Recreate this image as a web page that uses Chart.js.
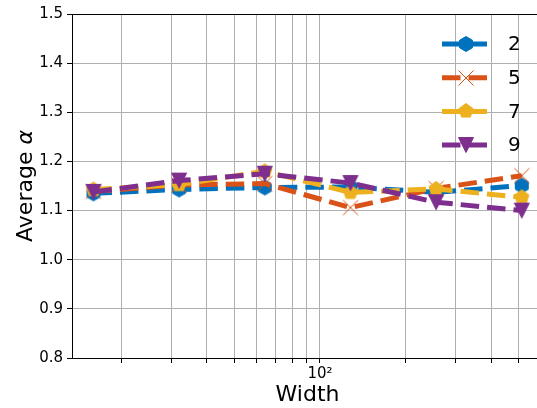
<!DOCTYPE html>
<html>
<head>
<meta charset="utf-8">
<script src="https://cdn.jsdelivr.net/npm/chart.js@4.4.0/dist/chart.umd.min.js"></script>
<style>
html, body { margin: 0; padding: 0; background: #fff; overflow: hidden; }
#wrap { width: 560px; height: 408px; }
</style>
</head>
<body>
<div id="wrap"><canvas id="chart" width="560" height="408"></canvas></div>
<script>
// Datos
const widths = [16, 32, 64, 128, 256, 512];
const seriesLabels = ['2', '5', '7', '9'];
const alpha2 = [1.135, 1.143, 1.147, 1.148, 1.137, 1.151];
const alpha5 = [1.139, 1.152, 1.155, 1.106, 1.145, 1.171];
const alpha7 = [1.143, 1.153, 1.180, 1.137, 1.144, 1.127];
const alpha9 = [1.138, 1.161, 1.175, 1.156, 1.117, 1.100];
const xTicks = [20, 30, 40, 50, 60, 70, 80, 90, 100, 200, 300, 400, 500, 600];
const yTicks = [0.8, 0.9, 1.0, 1.1, 1.2, 1.3, 1.4, 1.5];

const colors = ['#0072BD', '#D95319', '#EDB120', '#7E2F8E'];
const shapes = ['hexagon', 'x', 'pentagon', 'triangleDown'];
const dash = [18.5, 8];
const FONT = '"DejaVu Sans", sans-serif';

// Crear un marcador como imagen (canvas) para usarlo como pointStyle
function makeMarker(shape, color) {
    const s = 20, c = 10, r = 7.5;
    const cv = document.createElement('canvas');
    cv.width = s;
    cv.height = s;
    const g = cv.getContext('2d');
    g.fillStyle = color;
    g.strokeStyle = color;
    g.lineWidth = 1;
    g.beginPath();
    if (shape === 'hexagon' || shape === 'pentagon') {
        const n = shape === 'hexagon' ? 6 : 5;
        for (let i = 0; i < n; i++) {
            const a = -Math.PI / 2 + i * 2 * Math.PI / n;
            const px = c + r * Math.cos(a), py = c + r * Math.sin(a);
            if (i === 0) g.moveTo(px, py); else g.lineTo(px, py);
        }
        g.closePath();
        g.fill();
        g.stroke();
    } else if (shape === 'triangleDown') {
        g.moveTo(c - r, c - r);
        g.lineTo(c + r, c - r);
        g.lineTo(c, c + r);
        g.closePath();
        g.fill();
        g.stroke();
    } else {
        g.moveTo(c - r, c - r);
        g.lineTo(c + r, c + r);
        g.moveTo(c + r, c - r);
        g.lineTo(c - r, c + r);
        g.stroke();
    }
    return cv;
}

const seriesValues = [alpha2, alpha5, alpha7, alpha9];
const markers = shapes.map((s, i) => makeMarker(s, colors[i]));

const datasets = seriesLabels.map((label, i) => ({
    label: label,
    data: widths.map((w, j) => ({ x: w, y: seriesValues[i][j] })),
    borderColor: colors[i],
    backgroundColor: colors[i],
    borderWidth: 5,
    borderDash: dash,
    pointStyle: markers[i],
    pointRadius: 7,
    tension: 0,
    fill: false,
    order: seriesLabels.length - i
}));

// Marco superior/derecho, título del eje Y y leyenda dentro del área del gráfico
const framePlugin = {
    id: 'framePlugin',
    afterDraw(chart) {
        const ctx = chart.ctx;
        const a = chart.chartArea;
        ctx.save();
        ctx.strokeStyle = '#000';
        ctx.lineWidth = 1;
        ctx.beginPath();
        ctx.moveTo(a.left, a.top + 0.5);
        ctx.lineTo(a.right, a.top + 0.5);
        ctx.moveTo(a.right - 0.5, a.top);
        ctx.lineTo(a.right - 0.5, a.bottom);
        ctx.stroke();

        // Título del eje Y con alfa en cursiva
        const normal = '22px ' + FONT, italic = 'italic 22px ' + FONT;
        const t1 = 'Average ', t2 = 'α';
        ctx.font = normal;
        const w1 = ctx.measureText(t1).width;
        ctx.font = italic;
        const w2 = ctx.measureText(t2).width;
        ctx.save();
        ctx.translate(26, (a.top + a.bottom) / 2);
        ctx.rotate(-Math.PI / 2);
        ctx.fillStyle = '#000';
        ctx.textBaseline = 'middle';
        ctx.textAlign = 'left';
        ctx.font = normal;
        ctx.fillText(t1, -(w1 + w2) / 2, 0);
        ctx.font = italic;
        ctx.fillText(t2, -(w1 + w2) / 2 + w1, 0);
        ctx.restore();

        // Leyenda
        const x1 = a.right - 101, x2 = a.right - 54, tx = a.right - 35;
        ctx.font = '20px ' + FONT;
        ctx.textBaseline = 'middle';
        ctx.textAlign = 'left';
        chart.data.datasets.forEach((ds, i) => {
            const y = a.top + 30 + i * 33.7;
            ctx.strokeStyle = ds.borderColor;
            ctx.lineWidth = 5;
            ctx.setLineDash(dash);
            ctx.beginPath();
            ctx.moveTo(x1, y);
            ctx.lineTo(x2, y);
            ctx.stroke();
            ctx.setLineDash([]);
            const m = ds.pointStyle;
            ctx.drawImage(m, Math.round((x1 + x2) / 2) - m.width / 2, Math.round(y) - m.height / 2);
            ctx.fillStyle = '#000';
            ctx.fillText(ds.label, tx, y + 1);
        });
        ctx.restore();
    }
};

const ctx = document.getElementById('chart');
const chart = new Chart(ctx.getContext('2d'), {
    type: 'line',
    data: { datasets: datasets },
    options: {
        responsive: false,
        animation: false,
        layout: { padding: { top: 14, right: 17, left: 0, bottom: 0 } },
        plugins: {
            legend: { display: false },
            tooltip: { enabled: false }
        },
        scales: {
            x: {
                type: 'logarithmic',
                min: 13.45,
                max: 608,
                afterBuildTicks: function(scale) {
                    scale.ticks = xTicks.map(v => ({ value: v }));
                },
                afterFit: function(scale) { scale.height = 50; },
                ticks: {
                    autoSkip: false,
                    maxRotation: 0,
                    padding: 2,
                    color: '#000',
                    font: { family: FONT, size: 15 },
                    callback: function(value) {
                        return value === 100 ? '10²' : '';
                    }
                },
                grid: {
                    color: '#b0b0b0',
                    lineWidth: 1,
                    tickColor: '#000',
                    tickLength: 5
                },
                border: { color: '#000', width: 1 },
                title: {
                    display: true,
                    text: 'Width',
                    color: '#000',
                    font: { family: FONT, size: 22 },
                    padding: { top: 0, bottom: 0 }
                }
            },
            y: {
                min: 0.8,
                max: 1.5,
                afterBuildTicks: function(scale) {
                    scale.ticks = yTicks.map(v => ({ value: v }));
                },
                afterFit: function(scale) { scale.width = 72; },
                ticks: {
                    padding: 4,
                    color: '#000',
                    font: { family: FONT, size: 15 },
                    callback: function(value) { return value.toFixed(1); }
                },
                grid: {
                    color: '#b0b0b0',
                    lineWidth: 1,
                    tickColor: '#000',
                    tickLength: 5
                },
                border: { color: '#000', width: 1 },
                title: { display: false }
            }
        }
    },
    plugins: [framePlugin]
});
</script>
</body>
</html>
